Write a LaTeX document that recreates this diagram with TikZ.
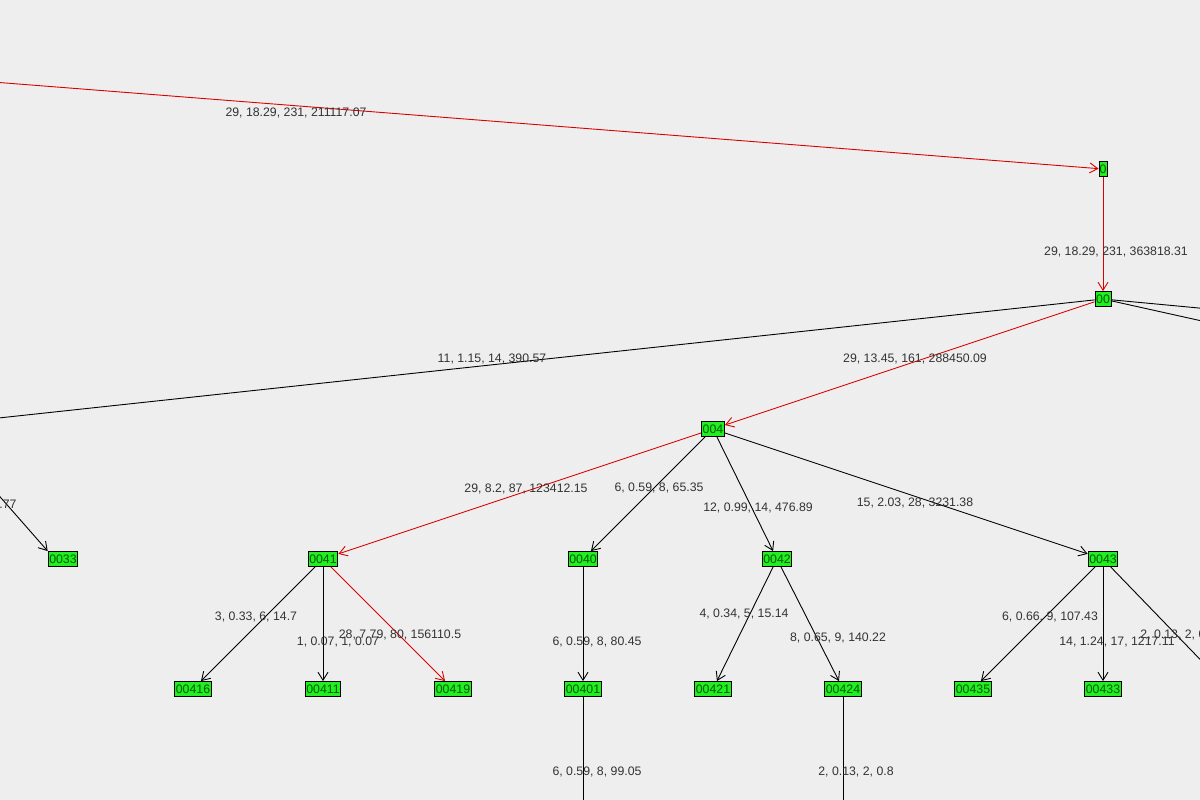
\documentclass[tikz,border=0pt]{standalone}
\usepackage{fontspec}
\setmainfont{Liberation Sans}
\usetikzlibrary{arrows.meta}
\definecolor{bg}{HTML}{EEEEEE}
\definecolor{lbl}{HTML}{333333}
\definecolor{leaf}{HTML}{22EE22}
\begin{document}
\begin{tikzpicture}[x=1pt, y=-1pt, line width=0.9pt, >={Straight Barb[length=8pt,width=10pt]},
    every node/.style={font=\fontsize{12.3}{13}\selectfont},
    vtx/.style={draw, fill=leaf, inner sep=1.2pt, minimum height=15pt, text=black!65!green},
    lab/.style={text=lbl, inner sep=0pt},
    hot/.style={red!85!black, ->}]
    \useasboundingbox[fill=bg] (0,0) rectangle (1200,800);
    \clip (0,0) rectangle (1200,800);
    % Nodes
    \node (0) [vtx, minimum width=8pt, inner sep=0pt] at (1103,169) {0};
    \node (00) [vtx] at (1103,299) {00};
    \node (004) [vtx] at (713,429) {004};
    \node (0033) [vtx] at (63,559) {0033};
    \node (0041) [vtx] at (323,559) {0041};
    \node (0040) [vtx] at (583,559) {0040};
    \node (0042) [vtx] at (777,559) {0042};
    \node (0043) [vtx] at (1103,559) {0043};
    \node (00416) [vtx] at (193,689) {00416};
    \node (00411) [vtx] at (323,689) {00411};
    \node (00419) [vtx] at (453,689) {00419};
    \node (00401) [vtx] at (583,689) {00401};
    \node (00421) [vtx] at (713,689) {00421};
    \node (00424) [vtx] at (843,689) {00424};
    \node (00435) [vtx] at (973,689) {00435};
    \node (00433) [vtx] at (1103,689) {00433};
    % Off-screen ends
    \coordinate (root) at (-20,81);
    \coordinate (west) at (-20,420);
    \coordinate (far1) at (1220,310);
    \coordinate (far2) at (1220,325);
    \coordinate (up33) at (-20,474);
    \coordinate (east43) at (1220,680);
    \coordinate (down1) at (583,820);
    \coordinate (down2) at (843,820);

    % Hot path
    \draw[hot] (root) -- (0);
    \draw[hot] (0) -- (00);
    \draw[hot] (00) -- (004);
    \draw[hot] (004) -- (0041);
    \draw[hot] (0041) -- (00419);

    % Other edges
    \draw (00) -- (west);
    \draw (00) -- (far1);
    \draw (00) -- (far2);
    \draw[->] (up33) -- (0033.north west);
    \draw[->] (004) -- (0040);
    \draw[->] (004) -- (0042);
    \draw[->] (004) -- (0043);
    \draw[->] (0041) -- (00416);
    \draw[->] (0041) -- (00411);
    \draw[->] (0040) -- (00401);
    \draw[->] (0042) -- (00421);
    \draw[->] (0042) -- (00424);
    \draw[->] (0043) -- (00435);
    \draw[->] (0043) -- (00433);
    \draw (0043) -- (east43);
    \draw (00401) -- (down1);
    \draw (00424) -- (down2);

    % Labels
    \node[lab] at (296,113) {29, 18.29, 231, 211117.07};
    \node[lab] at (1116,252) {29, 18.29, 231, 363818.31};
    \node[lab] at (492,359) {11, 1.15, 14, 390.57};
    \node[lab] at (915,359) {29, 13.45, 161, 288450.09};
    \node[lab, anchor=east] at (17,504) {.77};
    \node[lab] at (526,489) {29, 8.2, 87, 123412.15};
    \node[lab] at (659,488) {6, 0.59, 8, 65.35};
    \node[lab] at (758,508) {12, 0.99, 14, 476.89};
    \node[lab] at (915,503) {15, 2.03, 28, 3231.38};
    \node[lab] at (256,617) {3, 0.33, 6, 14.7};
    \node[lab] at (338,642) {1, 0.07, 1, 0.07};
    \node[lab] at (400,635) {28, 7.79, 80, 156110.5};
    \node[lab] at (597,642) {6, 0.59, 8, 80.45};
    \node[lab] at (744,614) {4, 0.34, 5, 15.14};
    \node[lab] at (838,638) {8, 0.65, 9, 140.22};
    \node[lab] at (1050,617) {6, 0.66, 9, 107.43};
    \node[lab] at (1117,642) {14, 1.24, 17, 1217.11};
    \node[lab, anchor=west] at (1140,635) {2, 0.13, 2, 0};
    \node[lab] at (597,772) {6, 0.59, 8, 99.05};
    \node[lab] at (856,772) {2, 0.13, 2, 0.8};
\end{tikzpicture}
\end{document}
